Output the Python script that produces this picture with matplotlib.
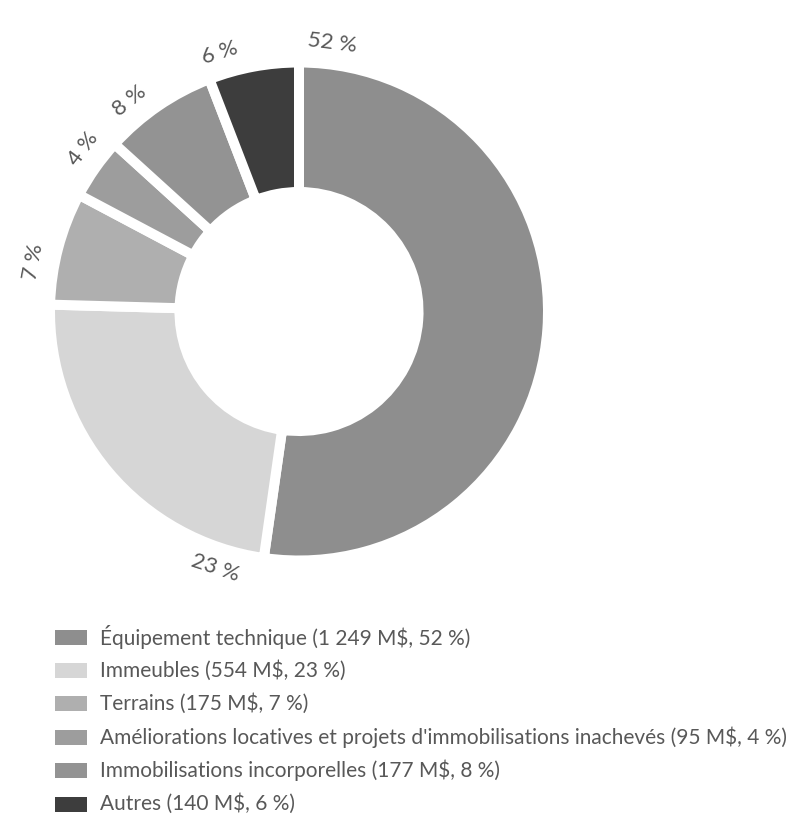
import numpy as np
import matplotlib.pyplot as plt
from matplotlib.patches import Rectangle

# Immobilisations corporelles et incorporelles, en millions de dollars
categories = [
    "Équipement technique",
    "Immeubles",
    "Terrains",
    "Améliorations locatives et projets d'immobilisations inachevés",
    "Immobilisations incorporelles",
    "Autres",
]
amounts = [1249, 554, 175, 95, 177, 140]
percents = [52, 23, 7, 4, 8, 6]
colors = ["#8e8e8e", "#d6d6d6", "#afafaf", "#9d9d9d", "#939393", "#3d3d3d"]

plt.rcParams["font.family"] = ["Lato", "DejaVu Sans"]
TEXT = "#585858"

W, H = 787, 833
fig = plt.figure(figsize=(W / 100, H / 100), dpi=100)

# donut: centre and radius in pixels
cx, cy, rad = 299, 311.5, 249
lim = 1.2
side = 2 * lim * rad
ax = fig.add_axes([(cx - side / 2) / W, (H - cy - side / 2) / H, side / W, side / H])

wedges, _ = ax.pie(
    amounts,
    colors=colors,
    startangle=90,
    counterclock=False,
    radius=1.0,
    wedgeprops=dict(width=0.52, edgecolor="white", linewidth=7.2),
)
ax.set_xlim(-lim, lim)
ax.set_ylim(-lim, lim)
ax.set_aspect("equal")
ax.axis("off")

# percentage labels follow the ring, a few degrees past the start of each slice
label_shift = [7, 10, 9, 9, 9, 4]
label_r = 1.085
for w, p, shift in zip(wedges, percents, label_shift):
    ang = w.theta2 - shift
    a = np.deg2rad(ang)
    rot = ang - 90 if np.sin(a) >= 0 else ang + 90
    ax.text(label_r * np.cos(a), label_r * np.sin(a), f"{p} %",
            ha="center", va="center", rotation=rot, rotation_mode="anchor",
            fontsize=16, color=TEXT)

# legend below the chart
row0, step = 637, 33.4
for i, (name, amt, p) in enumerate(zip(categories, amounts, percents)):
    y = row0 + i * step
    fig.patches.append(Rectangle((55 / W, 1 - (y + 7.5) / H), 32 / W, 15 / H,
                                 transform=fig.transFigure, facecolor=colors[i],
                                 edgecolor="none"))
    amt_txt = f"{amt:,}".replace(",", " ")
    fig.text(100 / W, 1 - y / H, f"{name} ({amt_txt} M$, {p} %)",
             ha="left", va="center", fontsize=15, color=TEXT)

fig.savefig("out.png", dpi=100, facecolor="white")
